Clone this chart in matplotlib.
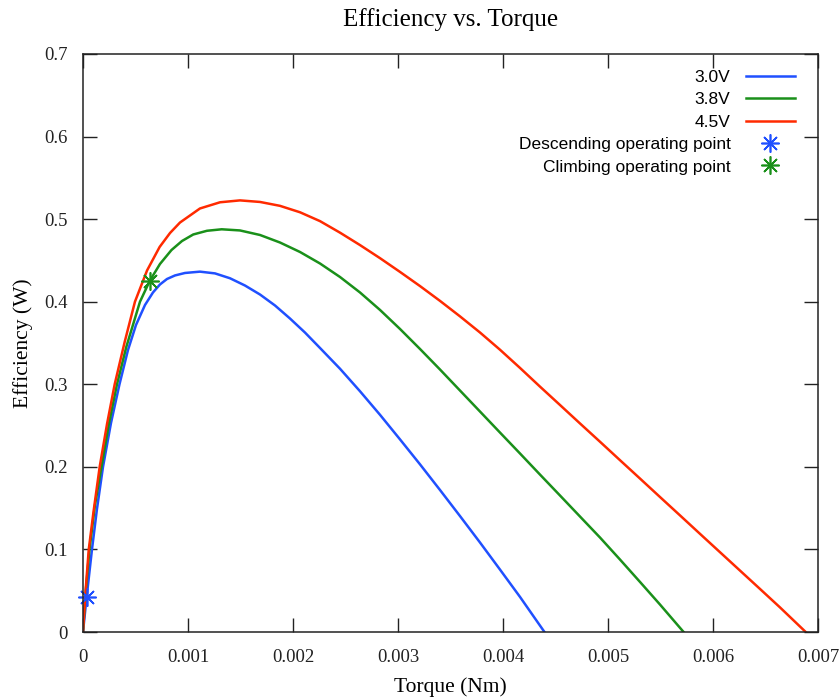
import matplotlib
matplotlib.use("Agg")
import matplotlib.pyplot as plt

# efficiency curves, torque in Nm
torque_30 = [0, 3.52e-5, 8.57e-5, 1.333e-4, 1.905e-4, 2.667e-4, 3.476e-4, 4.286e-4,
             5.048e-4, 5.905e-4, 6.667e-4, 7.333e-4, 8.0e-4, 8.762e-4, 9.714e-4,
             1.114e-3, 1.257e-3, 1.4e-3, 1.543e-3, 1.686e-3, 1.829e-3, 1.971e-3,
             2.114e-3, 2.257e-3, 2.448e-3, 2.638e-3, 2.829e-3, 3.019e-3, 3.21e-3,
             3.4e-3, 3.59e-3, 3.781e-3, 3.971e-3, 4.162e-3, 4.395e-3]
eff_30 = [0, 0.0428, 0.1000, 0.1491, 0.1998, 0.2531, 0.3000, 0.3415,
          0.3718, 0.3960, 0.4112, 0.4209, 0.4275, 0.4318, 0.4348,
          0.4364, 0.4343, 0.4284, 0.4196, 0.4087, 0.3954, 0.3797,
          0.3627, 0.3440, 0.3188, 0.2916, 0.2630, 0.2333, 0.2030,
          0.1720, 0.1405, 0.1084, 0.0757, 0.0425, 0]

torque_38 = [0, 2.67e-5, 6.19e-5, 1.143e-4, 1.762e-4, 2.476e-4, 3.238e-4, 4.124e-4,
             5.429e-4, 6.352e-4, 7.333e-4, 8.429e-4, 9.429e-4, 1.05e-3, 1.181e-3,
             1.321e-3, 1.495e-3, 1.686e-3, 1.876e-3, 2.067e-3, 2.257e-3, 2.448e-3,
             2.638e-3, 2.829e-3, 3.019e-3, 3.21e-3, 3.4e-3, 3.59e-3, 3.781e-3,
             3.971e-3, 4.162e-3, 4.352e-3, 4.543e-3, 4.733e-3, 4.924e-3, 5.114e-3,
             5.305e-3, 5.495e-3, 5.72e-3]
eff_38 = [0, 0.05, 0.10, 0.1538, 0.2000, 0.2525, 0.3000, 0.3452,
          0.4000, 0.4251, 0.4457, 0.4626, 0.4735, 0.4814, 0.4859,
          0.4877, 0.4863, 0.4808, 0.4717, 0.4602, 0.4463, 0.4299,
          0.4112, 0.3900, 0.3670, 0.3427, 0.3179, 0.2925, 0.2670,
          0.2416, 0.2162, 0.1907, 0.1653, 0.1399, 0.1144, 0.0878,
          0.0606, 0.0333, 0]

torque_45 = [0, 2.5e-5, 5.5e-5, 1.0e-4, 1.59e-4, 2.29e-4, 3.02e-4, 3.97e-4,
             4.95e-4, 6.1e-4, 7.3e-4, 8.29e-4, 9.24e-4, 1.114e-3, 1.305e-3,
             1.495e-3, 1.686e-3, 1.876e-3, 2.067e-3, 2.257e-3, 2.448e-3, 2.638e-3,
             2.829e-3, 3.019e-3, 3.21e-3, 3.4e-3, 3.59e-3, 3.781e-3, 3.971e-3,
             4.162e-3, 4.352e-3, 4.543e-3, 4.733e-3, 4.924e-3, 5.114e-3, 5.305e-3,
             5.495e-3, 5.686e-3, 5.876e-3, 6.067e-3, 6.257e-3, 6.448e-3, 6.638e-3,
             6.883e-3]
eff_45 = [0, 0.05, 0.10, 0.1453, 0.2000, 0.2519, 0.3000, 0.3512,
          0.4000, 0.4378, 0.4663, 0.4832, 0.4959, 0.5129, 0.5204,
          0.5227, 0.5208, 0.5161, 0.5083, 0.4976, 0.4836, 0.4686,
          0.4527, 0.4361, 0.4189, 0.4010, 0.3823, 0.3627, 0.3419,
          0.3198, 0.2972, 0.2749, 0.2526, 0.2304, 0.2081, 0.1858,
          0.1635, 0.1412, 0.1189, 0.0966, 0.0744, 0.0521, 0.0298,
          0]

# operating points
desc_point = (3.52e-5, 0.0428)
climb_point = (6.35e-4, 0.425)

xticks = [0, 0.001, 0.002, 0.003, 0.004, 0.005, 0.006, 0.007]
xtick_labels = ["0", "0.001", "0.002", "0.003", "0.004", "0.005", "0.006", "0.007"]
yticks = [0, 0.1, 0.2, 0.3, 0.4, 0.5, 0.6, 0.7]
ytick_labels = ["0", "0.1", "0.2", "0.3", "0.4", "0.5", "0.6", "0.7"]

blue = "#2050ff"
green = "#1a901a"
red = "#ff2a00"
serif = "Liberation Serif"
sans = "Liberation Sans"

fig = plt.figure(figsize=(8.39, 7.0), dpi=100)
ax = fig.add_axes([0.0989, 0.0971, 0.8761, 0.8258])

ax.plot(torque_30, eff_30, color=blue, lw=1.8, label="3.0V")
ax.plot(torque_38, eff_38, color=green, lw=1.8, label="3.8V")
ax.plot(torque_45, eff_45, color=red, lw=1.8, label="4.5V")
ax.plot([desc_point[0]], [desc_point[1]], ls="none", marker=(8, 2, 0), ms=13,
        mew=1.2, color=blue, label="Descending operating point", clip_on=False)
ax.plot([climb_point[0]], [climb_point[1]], ls="none", marker=(8, 2, 0), ms=13,
        mew=1.2, color=green, label="Climbing operating point")

ax.set_xlim(0, 0.007)
ax.set_ylim(0, 0.7)
ax.set_xticks(xticks)
ax.set_xticklabels(xtick_labels, fontfamily=serif, fontsize=13.5)
ax.set_yticks(yticks)
ax.set_yticklabels(ytick_labels, fontfamily=serif, fontsize=13.5)
ax.tick_params(direction="in", length=10, width=1.0, top=True, right=True,
               color="#222222", labelcolor="#222222")
ax.tick_params(axis="x", pad=12)
ax.tick_params(axis="y", pad=11)
for s in ax.spines.values():
    s.set_linewidth(1.1)
    s.set_color("#222222")

ax.set_title("Efficiency vs. Torque", fontfamily=serif, fontsize=18, pad=20)
ax.set_xlabel("Torque (Nm)", fontfamily=serif, fontsize=15.5, labelpad=8)
ax.set_ylabel("Efficiency (W)", fontfamily=serif, fontsize=15.5, labelpad=8)

leg = ax.legend(loc="upper right", bbox_to_anchor=(0.9895, 1.0), frameon=False,
                markerfirst=False, handlelength=2.8, handletextpad=0.9,
                labelspacing=0.42, prop={"family": sans, "size": 12.5})

fig.savefig("out.png", dpi=100)
